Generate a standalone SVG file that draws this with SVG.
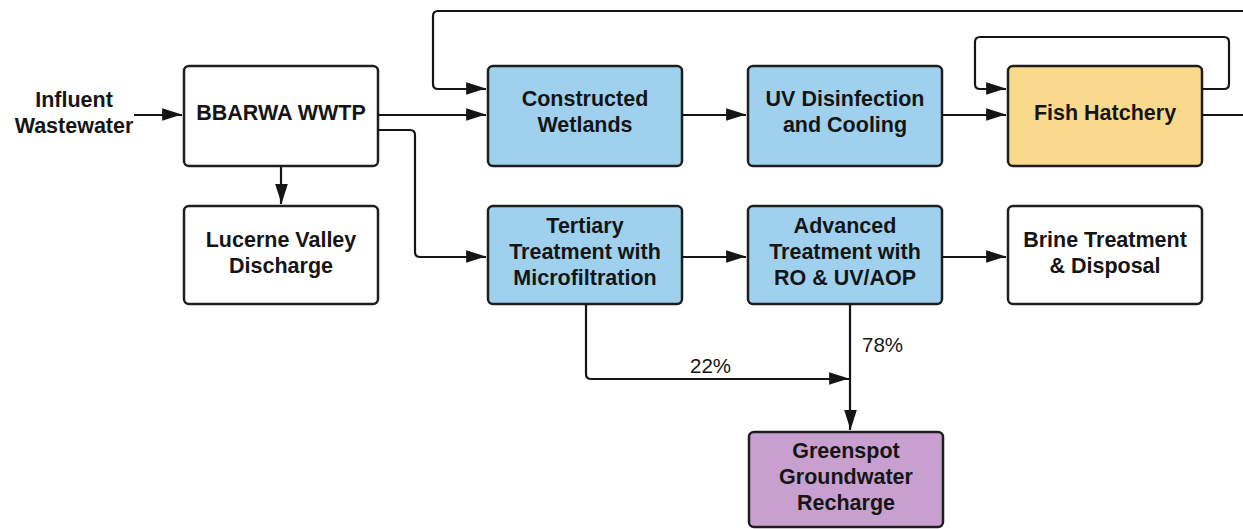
<svg xmlns="http://www.w3.org/2000/svg" width="1243" height="529" viewBox="0 0 1243 529">
<style>
.box{stroke:#1e1e1e;stroke-width:2.5}
.w{fill:#ffffff}.b{fill:#9fd1ee}.y{fill:#fbd98c}.p{fill:#c8a0d0}
.t{font-family:"Liberation Sans",Arial,sans-serif;font-weight:bold;font-size:21.5px;fill:#151515;text-anchor:middle}
.r{font-family:"Liberation Sans",Arial,sans-serif;font-size:20.5px;fill:#151515}
.c{fill:none;stroke:#151515;stroke-width:2.2;stroke-linejoin:round}
</style>
<defs>
<marker id="a" viewBox="0 0 10 10" refX="10" refY="5" markerWidth="10" markerHeight="10" markerUnits="userSpaceOnUse" orient="auto" overflow="visible">
<path d="M-12,-2 L10,5 L-12,12 Z" fill="#151515" transform="scale(0.9) translate(1,0)"/>
</marker>
</defs>
<rect width="1243" height="529" fill="#ffffff"/>
<g id="influent"><text class="t" x="74" y="107">Influent</text><text class="t" x="74" y="133">Wastewater</text></g>
<g id="wwtp"><rect class="box w" x="184" y="66" width="194" height="100" rx="5"/><text class="t" x="281" y="120">BBARWA WWTP</text></g>
<g id="lucerne"><rect class="box w" x="184" y="206" width="194" height="98" rx="5"/><text class="t" x="281" y="247">Lucerne Valley</text><text class="t" x="281" y="273">Discharge</text></g>
<g id="wetlands"><rect class="box b" x="488" y="66" width="194" height="100" rx="5"/><text class="t" x="585" y="106">Constructed</text><text class="t" x="585" y="132">Wetlands</text></g>
<g id="uv"><rect class="box b" x="748" y="66" width="194" height="100" rx="5"/><text class="t" x="845" y="106">UV Disinfection</text><text class="t" x="845" y="132">and Cooling</text></g>
<g id="fish"><rect class="box y" x="1008" y="66" width="194" height="100" rx="5"/><text class="t" x="1105" y="120">Fish Hatchery</text></g>
<g id="tertiary"><rect class="box b" x="488" y="206" width="194" height="98" rx="5"/><text class="t" x="585" y="233">Tertiary</text><text class="t" x="585" y="259">Treatment with</text><text class="t" x="585" y="285">Microfiltration</text></g>
<g id="advanced"><rect class="box b" x="748" y="206" width="194" height="98" rx="5"/><text class="t" x="845" y="233">Advanced</text><text class="t" x="845" y="259">Treatment with</text><text class="t" x="845" y="285">RO &amp; UV/AOP</text></g>
<g id="brine"><rect class="box w" x="1008" y="206" width="194" height="98" rx="5"/><text class="t" x="1105" y="247">Brine Treatment</text><text class="t" x="1105" y="273">&amp; Disposal</text></g>
<g id="greenspot"><rect class="box p" x="749" y="432" width="194" height="95" rx="5"/><text class="t" x="846" y="458">Greenspot</text><text class="t" x="846" y="484">Groundwater</text><text class="t" x="846" y="510">Recharge</text></g>
<g id="connectors">
<path class="c" d="M134,115 H182" marker-end="url(#a)"/>
<path class="c" d="M281,166 V204" marker-end="url(#a)"/>
<path class="c" d="M378,115 H486" marker-end="url(#a)"/>
<path class="c" d="M378,130 H410 Q415,130 415,135 V252 Q415,257 420,257 H486" marker-end="url(#a)"/>
<path class="c" d="M682,115 H746" marker-end="url(#a)"/>
<path class="c" d="M942,115 H1006" marker-end="url(#a)"/>
<path class="c" d="M682,257 H746" marker-end="url(#a)"/>
<path class="c" d="M942,257 H1006" marker-end="url(#a)"/>
<path class="c" d="M1202,115 H1252 V11 H438 Q433,11 433,16 V84 Q433,89 438,89 H486" marker-end="url(#a)"/>
<path class="c" d="M1202,89 H1224 Q1229,89 1229,84 V42 Q1229,37 1224,37 H980 Q975,37 975,42 V84 Q975,89 980,89 H1006" marker-end="url(#a)"/>
<path class="c" d="M586,304 V374 Q586,379 591,379 H849" marker-end="url(#a)"/>
<path class="c" d="M850,304 V430" marker-end="url(#a)"/>
<text class="r" x="862" y="352">78%</text>
<text class="r" x="690" y="373">22%</text>
</g>
</svg>
